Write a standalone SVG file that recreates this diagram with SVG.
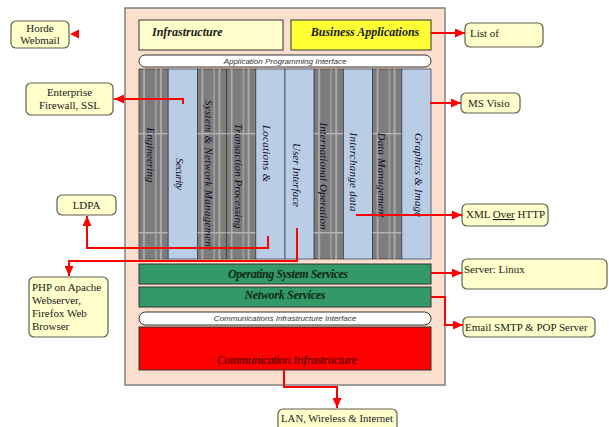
<svg xmlns="http://www.w3.org/2000/svg" xmlns:xlink="http://www.w3.org/1999/xlink" width="609" height="427" viewBox="0 0 609 427">
<style>
.node{fill:#FFFFCC;stroke:#5f5f50;stroke-width:1.2}
.nt{font-family:"Liberation Serif",serif;font-size:11px;fill:#1a1a1a}
.conn{fill:none;stroke:#ff0000;stroke-width:2}
.col{font-family:"Liberation Serif",serif;font-size:11px;font-style:italic;fill:#0e0e2a}
.lt{fill:#B9CDE5;stroke:#3a4660;stroke-width:0.8}
.bi{font-family:"Liberation Serif",serif;font-size:12px;font-style:italic;font-weight:bold}
.ifc{fill:#ffffff;stroke:#333;stroke-width:1}
.ift{font-family:"Liberation Sans",sans-serif;font-size:8px;font-style:italic;fill:#333}
</style>
<defs>
<pattern id="dots" width="4" height="4" patternUnits="userSpaceOnUse">
<rect width="4" height="4" fill="#FBE0CF"/>
<circle cx="1" cy="1" r="0.6" fill="#efcab6"/>
</pattern>
<marker id="ah" markerWidth="10" markerHeight="9" refX="10" refY="4.5" orient="auto" markerUnits="userSpaceOnUse">
<path d="M0,0 L10,4.5 L0,9 z" fill="#ff0000"/>
</marker>
<g id="dk">
<rect width="29.2" height="190" fill="#7d7d7d" stroke="#3a3a3a" stroke-width="0.8"/>
<rect x="4" width="2" height="190" fill="#a9a9a9"/>
<rect x="16" width="1.6" height="190" fill="#a0a0a0"/>
<rect x="21" width="2" height="190" fill="#a9a9a9"/>
<rect y="64" width="29.2" height="1.4" fill="#b5b5b5"/>
<rect y="163" width="29.2" height="1.4" fill="#b5b5b5"/>
</g>
</defs>
<rect width="609" height="427" fill="#ffffff"/>

<g id="container">
<rect x="125" y="8" width="320" height="377" fill="url(#dots)" stroke="#808080" stroke-width="1.5"/>
</g>

<g id="infrastructure">
<rect x="139" y="20" width="144" height="30" fill="#FFFFCC" stroke="#333" stroke-width="1"/>
<text class="bi" x="152" y="36" fill="#1a1a1a">Infrastructure</text>
</g>
<g id="business-applications">
<rect x="291" y="20" width="140" height="30" fill="#FFFF33" stroke="#333" stroke-width="1"/>
<text class="bi" x="365" y="36" text-anchor="middle" fill="#1a1a1a">Business Applications</text>
</g>
<g id="api">
<rect class="ifc" x="139" y="55" width="292" height="12" rx="6"/>
<text class="ift" x="285" y="64" text-anchor="middle">Application Programming Interface</text>
</g>

<g id="columns">
<use xlink:href="#dk" x="139" y="69"/>
<rect class="lt" x="168.2" y="69" width="29.2" height="190"/>
<use xlink:href="#dk" x="197.4" y="69"/>
<use xlink:href="#dk" x="226.6" y="69"/>
<rect class="lt" x="255.8" y="69" width="29.2" height="190"/>
<rect class="lt" x="285" y="69" width="29.2" height="190"/>
<use xlink:href="#dk" x="314.2" y="69"/>
<rect class="lt" x="343.4" y="69" width="29.2" height="190"/>
<use xlink:href="#dk" x="372.6" y="69"/>
<rect class="lt" x="401.8" y="69" width="29.2" height="190"/>
</g>
<g id="col-engineering"><text class="col" transform="translate(146.5,155) rotate(90)" text-anchor="middle" textLength="55" lengthAdjust="spacing">Engineering</text></g>
<g id="col-security"><text class="col" transform="translate(175.5,174) rotate(90)" text-anchor="middle" textLength="32" lengthAdjust="spacing">Security</text></g>
<g id="col-system"><text class="col" transform="translate(204.5,175) rotate(90)" text-anchor="middle" textLength="150" lengthAdjust="spacing">System &amp; Network Management</text></g>
<g id="col-transaction"><text class="col" transform="translate(234.5,176) rotate(90)" text-anchor="middle" textLength="105" lengthAdjust="spacing">Transaction Processing</text></g>
<g id="col-locations"><text class="col" transform="translate(262.5,153.5) rotate(90)" text-anchor="middle" textLength="57" lengthAdjust="spacing">Locations &amp;</text></g>
<g id="col-ui"><text class="col" transform="translate(293,175) rotate(90)" text-anchor="middle" textLength="64" lengthAdjust="spacing">User Interface</text></g>
<g id="col-intl"><text class="col" transform="translate(319.5,176) rotate(90)" text-anchor="middle" textLength="107" lengthAdjust="spacing">International Operation</text></g>
<g id="col-interchange"><text class="col" transform="translate(349.5,172) rotate(90)" text-anchor="middle" textLength="79" lengthAdjust="spacing">Interchange data</text></g>
<g id="col-data"><text class="col" transform="translate(377.5,175) rotate(90)" text-anchor="middle" textLength="85" lengthAdjust="spacing">Data Management</text></g>
<g id="col-graphics"><text class="col" transform="translate(414.5,175) rotate(90)" text-anchor="middle" textLength="84" lengthAdjust="spacing">Graphics &amp; Image</text></g>

<g id="os-services">
<rect x="139" y="264" width="292" height="20" fill="#339966" stroke="#333" stroke-width="1"/>
<text class="bi" x="288" y="278" text-anchor="middle" fill="#0f2a1a" textLength="120" lengthAdjust="spacing">Operating System Services</text>
</g>
<g id="network-services">
<rect x="139" y="287" width="292" height="20" fill="#339966" stroke="#333" stroke-width="1"/>
<text class="bi" x="285" y="299" text-anchor="middle" fill="#0f2a1a" textLength="81" lengthAdjust="spacing">Network Services</text>
</g>
<g id="cii">
<rect class="ifc" x="139" y="312" width="292" height="13" rx="6.5"/>
<text class="ift" x="285" y="321" text-anchor="middle">Communications Infrastructure Interface</text>
</g>
<g id="comm-infra">
<rect x="139" y="327" width="292" height="43" fill="#ff0000" stroke="#333" stroke-width="1"/>
<text class="bi" x="287" y="364" text-anchor="middle" fill="#7a0000" textLength="140" lengthAdjust="spacing">Communication Infrastructure</text>
</g>

<g id="horde">
<rect class="node" x="11" y="21" width="58" height="27" rx="5"/>
<text class="nt" x="40" y="32" text-anchor="middle">Horde</text>
<text class="nt" x="40" y="44" text-anchor="middle">Webmail</text>
</g>
<g id="enterprise">
<rect class="node" x="26" y="83" width="87" height="32" rx="5"/>
<text class="nt" x="69.5" y="96" text-anchor="middle">Enterprise</text>
<text class="nt" x="69.5" y="109" text-anchor="middle">Firewall, SSL</text>
</g>
<g id="ldpa">
<rect class="node" x="57" y="195" width="59" height="20" rx="5"/>
<text class="nt" x="86.5" y="209" text-anchor="middle">LDPA</text>
</g>
<g id="php">
<rect class="node" x="29" y="277" width="79" height="60" rx="5"/>
<text class="nt" x="32" y="291">PHP on Apache</text>
<text class="nt" x="32" y="304">Webserver,</text>
<text class="nt" x="32" y="317">Firefox Web</text>
<text class="nt" x="32" y="330">Browser</text>
</g>
<g id="list-of">
<rect class="node" x="465" y="23" width="78" height="24" rx="5"/>
<text class="nt" x="470" y="37">List of</text>
</g>
<g id="ms-visio">
<rect class="node" x="461" y="93" width="59" height="20" rx="5"/>
<text class="nt" x="468" y="107">MS Visio</text>
</g>
<g id="xml">
<rect class="node" x="462" y="204" width="86" height="22" rx="5"/>
<text class="nt" x="466" y="218">XML <tspan text-decoration="underline">Over</tspan> HTTP</text>
</g>
<g id="server-linux">
<rect class="node" x="462" y="259" width="145" height="30" rx="5"/>
<text class="nt" x="464" y="273">Server: Linux</text>
</g>
<g id="email">
<rect class="node" x="463" y="317" width="132" height="20" rx="5"/>
<text class="nt" x="465" y="331">Email SMTP &amp; POP Server</text>
</g>
<g id="lan">
<rect class="node" x="278" y="409" width="119" height="22" rx="5"/>
<text class="nt" x="281" y="422" textLength="112" lengthAdjust="spacingAndGlyphs">LAN, Wireless &amp; Internet</text>
</g>

<g id="connectors">
<path class="conn" d="M431,33 H465" marker-end="url(#ah)"/>
<path class="conn" d="M183,104 V99 H114" marker-end="url(#ah)"/>
<path class="conn" d="M430,103 H461" marker-end="url(#ah)"/>
<path class="conn" d="M356,215 H462" marker-end="url(#ah)"/>
<path class="conn" d="M268,236 V248 H87 V216" marker-end="url(#ah)"/>
<path class="conn" d="M297,228 V261 H69 V276" marker-end="url(#ah)"/>
<path class="conn" d="M431,273 H462" marker-end="url(#ah)"/>
<path class="conn" d="M431,297 H445 V325 H463" marker-end="url(#ah)"/>
<path class="conn" d="M284,370 V387 H337 V408" marker-end="url(#ah)"/>
<path d="M70,34 L79,29.5 L79,38.5 z" fill="#ff0000"/>
</g>
</svg>
